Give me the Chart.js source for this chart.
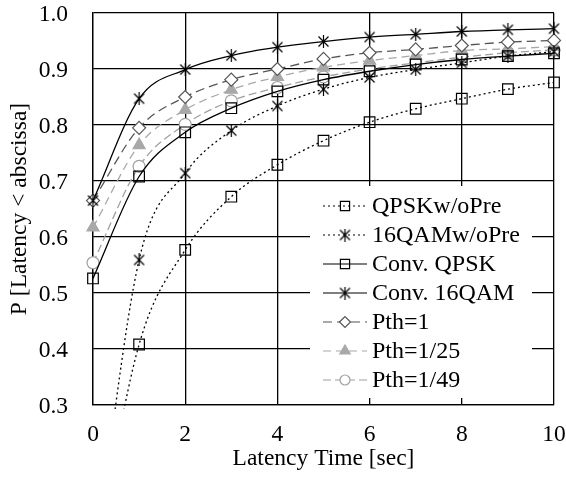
<!DOCTYPE html>
<html>
<head>
<meta charset="utf-8">
<script src="https://cdn.jsdelivr.net/npm/chart.js@4.4.1/dist/chart.umd.min.js"></script>
<style>
html,body{margin:0;padding:0;background:#fff;}
canvas{display:block;}
</style>
</head>
<body>
<canvas id="c" width="566" height="481"></canvas>
<script>
// ---- data ----
const latency = [0, 1, 2, 3, 4, 5, 6, 7, 8, 9, 10];
const seriesNames = ["QPSKw/oPre", "16QAMw/oPre", "Conv. QPSK", "Conv. 16QAM", "Pth=1", "Pth=1/25", "Pth=1/49"];
const qpskWoPre   = [0.000, 0.408, 0.577, 0.672, 0.729, 0.772, 0.805, 0.829, 0.847, 0.864, 0.876];
const qam16WoPre  = [0.000, 0.559, 0.714, 0.790, 0.834, 0.864, 0.885, 0.899, 0.911, 0.923, 0.931];
const convQpsk    = [0.526, 0.708, 0.787, 0.830, 0.860, 0.881, 0.896, 0.908, 0.917, 0.923, 0.928];
const convQam16   = [0.665, 0.847, 0.899, 0.924, 0.939, 0.949, 0.957, 0.962, 0.967, 0.970, 0.972];
const pth1        = [0.665, 0.795, 0.850, 0.881, 0.900, 0.918, 0.929, 0.935, 0.942, 0.948, 0.951];
const pth1_25     = [0.617, 0.764, 0.827, 0.863, 0.886, 0.903, 0.915, 0.924, 0.933, 0.936, 0.940];
const pth1_49     = [0.554, 0.726, 0.801, 0.843, 0.867, 0.886, 0.900, 0.911, 0.921, 0.929, 0.934];
const xTicks = [0, 2, 4, 6, 8, 10];
const yTicks = [0.3, 0.4, 0.5, 0.6, 0.7, 0.8, 0.9, 1.0];
const xTitle = "Latency Time [sec]";
const yTitle = "P [Latency < abscissa]";

// ---- styles ----
const FONT = '"Liberation Serif", "Times New Roman", serif';
function asterisk(color) {
  const c = document.createElement('canvas');
  c.width = 13; c.height = 13;
  const g = c.getContext('2d');
  g.strokeStyle = color; g.lineWidth = 1.2;
  g.beginPath();
  g.moveTo(1.5, 1.5); g.lineTo(11.5, 11.5);
  g.moveTo(11.5, 1.5); g.lineTo(1.5, 11.5);
  g.moveTo(6.5, 0); g.lineTo(6.5, 13);
  g.stroke();
  return c;
}
const star = asterisk('#000');
const styles = [
  {color:'#000', dash:[2,3], ps:'rect', r:7.5, fill:'rgba(0,0,0,0)', pc:'#000'},
  {color:'#000', dash:[2,3], ps:star, r:6, fill:'rgba(0,0,0,0)', pc:'#000'},
  {color:'#000', dash:[], ps:'rect', r:7.5, fill:'rgba(0,0,0,0)', pc:'#000'},
  {color:'#000', dash:[], ps:star, r:6, fill:'rgba(0,0,0,0)', pc:'#000'},
  {color:'#555', dash:[9,5], ps:'rectRot', r:6.5, fill:'#fff', pc:'#555'},
  {color:'#a8a8a8', dash:[8,5], ps:'triangle', r:7, fill:'#a8a8a8', pc:'#a8a8a8'},
  {color:'#a0a0a0', dash:[8,4], ps:'circle', r:6, fill:'#fff', pc:'#a0a0a0'}
];
const seriesValues = [qpskWoPre, qam16WoPre, convQpsk, convQam16, pth1, pth1_25, pth1_49];

const datasets = seriesValues.map((vals, i) => {
  const s = styles[i];
  return {
    label: seriesNames[i],
    data: latency.map((x, k) => ({x: x, y: vals[k]})),
    borderColor: s.color,
    borderWidth: 1.3,
    borderDash: s.dash,
    pointStyle: s.ps,
    pointRadius: s.r,
    pointBorderColor: s.pc,
    pointBackgroundColor: s.fill,
    pointBorderWidth: 1.2,
    cubicInterpolationMode: 'monotone',
    fill: false,
    clip: {left: 12, right: 12, top: 12, bottom: 4}
  };
});

// custom in-plot legend (white box, line sample + marker + label)
const legendBox = {
  id: 'legendBox',
  afterDatasetsDraw(chart) {
    const ctx = chart.ctx;
    ctx.save();
    ctx.fillStyle = '#fff';
    ctx.fillRect(310, 186, 222, 212);
    chart.data.datasets.forEach((ds, i) => {
      const y = 206 + i * 29;
      ctx.strokeStyle = ds.borderColor;
      ctx.lineWidth = 1.2;
      ctx.setLineDash(ds.borderDash || []);
      ctx.beginPath();
      ctx.moveTo(323, y); ctx.lineTo(367, y);
      ctx.stroke();
      ctx.setLineDash([]);
      ctx.fillStyle = ds.pointBackgroundColor;
      ctx.strokeStyle = ds.pointBorderColor;
      ctx.lineWidth = ds.pointBorderWidth;
      Chart.helpers.drawPoint(ctx, {pointStyle: ds.pointStyle, rotation: 0, radius: ds.pointRadius - 1, borderWidth: ds.pointBorderWidth}, 345, y);
      ctx.fillStyle = '#000';
      ctx.font = '24px ' + FONT;
      ctx.textAlign = 'left';
      ctx.textBaseline = 'middle';
      ctx.fillText(ds.label, 372, y + 1);
    });
    ctx.restore();
  }
};

new Chart(document.getElementById('c'), {
  type: 'line',
  data: {datasets: datasets},
  options: {
    responsive: false,
    animation: false,
    devicePixelRatio: 1,
    layout: {padding: {left: 0, right: 12, top: 13, bottom: 0}},
    plugins: {legend: {display: false}, tooltip: {enabled: false}},
    scales: {
      x: {
        type: 'linear', min: 0, max: 10,
        afterBuildTicks(scale) { scale.ticks = xTicks.map(v => ({value: v})); },
        afterFit(scale) { scale.height = 76; },
        grid: {color: '#000', lineWidth: 1.3, drawTicks: true, tickLength: 18, tickColor: 'rgba(0,0,0,0)'},
        border: {color: '#000', width: 1.3},
        ticks: {color: '#000', font: {family: FONT, size: 23.5, lineHeight: 1}, padding: 0, maxRotation: 0,
                callback: v => String(v)},
        title: {display: true, text: xTitle, color: '#000', font: {family: FONT, size: 23.5}, padding: {top: 0, bottom: 8}}
      },
      y: {
        type: 'linear', min: 0.3, max: 1.0,
        afterBuildTicks(scale) { scale.ticks = yTicks.map(v => ({value: v})); },
        afterFit(scale) { scale.width = 93; },
        grid: {color: '#000', lineWidth: 1.3, drawTicks: true, tickLength: 25, tickColor: 'rgba(0,0,0,0)'},
        border: {color: '#000', width: 1.3},
        ticks: {color: '#000', font: {family: FONT, size: 23.5, lineHeight: 1}, padding: 0, labelOffset: 2,
                callback: v => Number(v).toFixed(1)},
        title: {display: true, text: yTitle, color: '#000', font: {family: FONT, size: 23.5}, padding: {top: 6, bottom: 0}}
      }
    }
  },
  plugins: [legendBox]
});
</script>
</body>
</html>
